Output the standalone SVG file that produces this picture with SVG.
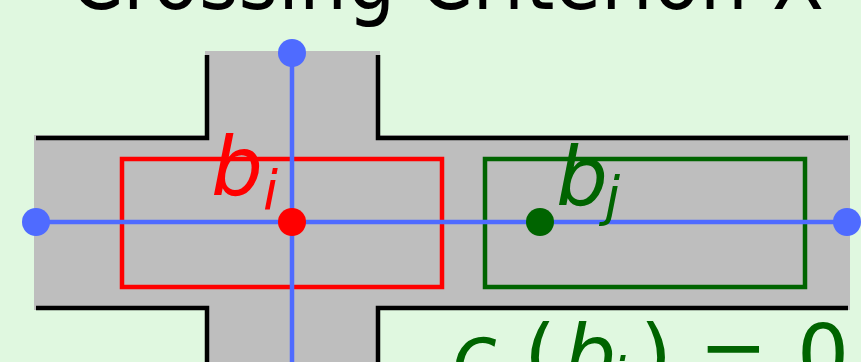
<svg xmlns="http://www.w3.org/2000/svg" width="861" height="362" viewBox="0 0 861 362">
<style>
.edge{fill:none;stroke:#000;stroke-width:4.5;stroke-linejoin:miter}
.ray{stroke:#4f6bff;stroke-width:4.5}
.math{font-family:"DejaVu Sans",sans-serif;font-style:italic}
.up{font-family:"DejaVu Sans",sans-serif;font-style:normal}
</style>
<rect width="861" height="362" fill="#e0f8e0"/>
<text x="70" y="9" class="up" font-size="86" fill="#000" textLength="754" lengthAdjust="spacingAndGlyphs">Crossing Criterion X</text>
<g id="region">
<rect x="205" y="51" width="175" height="320" fill="#bebebe"/>
<rect x="34" y="135" width="816" height="175" fill="#bebebe"/>
<path class="edge" d="M207 55 V138 H36 M378 55 V138 H848 M36 308 H207 V362 M848 308 H378 V362"/>
</g>
<g id="box-bi">
<rect x="122" y="159" width="320" height="128" fill="none" stroke="#ff0000" stroke-width="4.5"/>
</g>
<g id="box-bj">
<rect x="485" y="159" width="320" height="128" fill="none" stroke="#006400" stroke-width="4.5"/>
</g>
<g id="connectors">
<line class="ray" x1="292" y1="53" x2="292" y2="362"/>
<line class="ray" x1="36" y1="222" x2="847" y2="222"/>
</g>
<g id="endpoints">
<circle cx="292" cy="53" r="14" fill="#4f6bff"/>
<circle cx="36" cy="222" r="14" fill="#4f6bff"/>
<circle cx="847" cy="222" r="14" fill="#4f6bff"/>
</g>
<g id="point-bi">
<circle cx="292" cy="222" r="14" fill="#ff0000"/>
<text x="211" y="195" class="math" font-size="82" fill="#ff0000">b<tspan font-size="54" dy="14">i</tspan></text>
</g>
<g id="point-bj">
<circle cx="540" cy="222" r="14" fill="#006400"/>
<text x="556" y="205" class="math" font-size="82" fill="#006400">b<tspan font-size="54" dy="10" x="605">j</tspan></text>
</g>
<g id="formula" fill="#006400" font-size="82">
<text x="452" y="383" class="math">c</text>
<text x="496" y="396" class="math" font-size="54">x</text>
<text x="524" y="383" class="up">(</text>
<text x="564" y="383" class="math">b</text>
<text x="611" y="396" class="math" font-size="54">i</text>
<text x="640" y="383" class="up">)</text>
<text x="699" y="383" class="up">=</text>
<text x="797" y="383" class="up">0</text>
</g>
</svg>
